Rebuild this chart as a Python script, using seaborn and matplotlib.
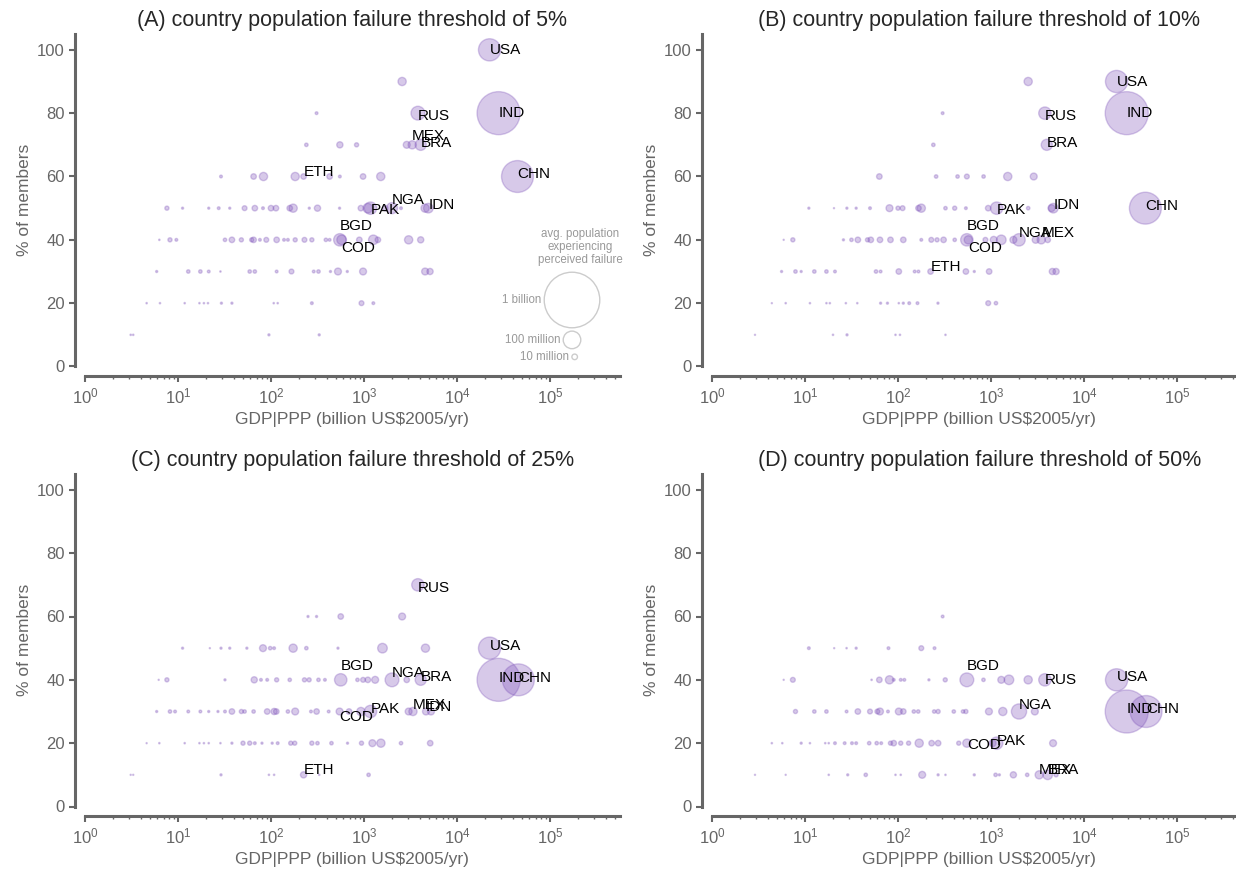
import numpy as np
import pandas as pd
import matplotlib
matplotlib.use("Agg")
import matplotlib.pyplot as plt
import seaborn as sns

# ============================
# DATA  (gdp in billion US$2005/yr, pct of members, pop in millions)
# ============================
titles = [
    "(A) country population failure threshold of 5%",
    "(B) country population failure threshold of 10%",
    "(C) country population failure threshold of 25%",
    "(D) country population failure threshold of 50%",
]

# --- panel A, unlabelled countries
a_gdp = [2570,
         309,
         240, 550, 832, 2880,
         29, 65, 83, 182, 427, 550, 977, 1514,
         7.6, 11.2, 21.4, 27.4, 36, 52, 67, 82, 100, 113, 159, 173, 258, 316, 546, 926, 1100, 1690, 2500, 4540,
         6.3, 8.2, 9.6, 32, 38, 48, 62, 65, 76, 89, 115, 138, 152, 182, 229, 275, 389, 427, 891, 1260, 1410, 3020, 4070,
         5.9, 12.9, 17.4, 21.4, 28.6, 59, 67, 115, 166, 288, 324, 436, 525, 661, 977, 4540, 5130,
         4.6, 6.4, 11.8, 17, 19, 21, 29.3, 38, 107, 118, 275, 940, 1260,
         3.1, 3.3, 95, 330]
a_pct = [90] * 1 + [80] * 1 + [70] * 4 + [60] * 8 + [50] * 20 + [40] * 23 + [30] * 17 + [20] * 13 + [10] * 4
a_pop = [22,
         2.5,
         3.9, 12.6, 5.6, 15.6,
         2.5, 10, 22, 22, 10, 2.5, 10, 22,
         5.6, 1.4, 1.4, 2.5, 1.4, 7.7, 10, 2.5, 10, 10, 10, 22, 1.4, 12.6, 1.4, 10, 30, 10, 2.5, 22,
         0.6, 5.6, 2.5, 3.9, 10, 5.6, 5.6, 10, 2.5, 7.7, 10, 2.5, 2.5, 5.6, 7.7, 5.6, 3.9, 2.5, 10, 30, 10, 22, 12.6,
         1.4, 3.9, 3.9, 2.5, 0.6, 3.9, 3.9, 2.5, 7.7, 2.5, 3.9, 1.4, 15.6, 1.4, 15.6, 15.6, 12.6,
         0.6, 0.6, 0.6, 0.6, 0.6, 0.6, 1.4, 1.4, 0.6, 0.6, 2.5, 7.7, 2.5,
         0.6, 0.6, 1.4, 1.4]
# --- panel A, labelled countries
a_code = ["USA", "RUS", "IND", "MEX", "BRA", "ETH", "CHN", "PAK", "NGA", "IDN", "BGD", "COD"]
a_lgdp = [22400, 3800, 28000, 3300, 4070, 224, 44700, 1175, 2000, 4920, 550, 575]
a_lpct = [100, 80, 80, 70, 70, 60, 60, 50, 50, 50, 40, 40]
a_lpop = [160, 62, 600, 22, 40, 10, 330, 50, 40, 30, 50, 30]

# --- panel B
b_gdp = [2510,
         302,
         240,
         63, 257, 437, 550, 832, 1514, 2880,
         11, 20.5, 28.2, 35.5, 50, 81, 100, 112, 166, 178, 324, 407, 537, 933, 2510, 4470,
         5.9, 7.4, 25.9, 31.6, 37, 47, 51, 64, 83, 114, 178, 228, 263, 309, 407, 871, 1070, 1290, 1740, 3020, 4070,
         5.6, 7.9, 9.1, 12.6, 17, 21, 58, 65, 102, 151, 166, 537, 661, 955, 4570, 5010,
         4.4, 6.2, 11.3, 17, 18.5, 27.5, 36.5, 65, 77, 102, 114, 132, 162, 269, 933, 1130,
         2.9, 20, 28.3, 94, 105, 324]
b_pct = [90] * 1 + [80] * 1 + [70] * 1 + [60] * 7 + [50] * 16 + [40] * 21 + [30] * 16 + [20] * 16 + [10] * 6
b_pop = [22,
         2.5,
         3.9,
         10, 3.9, 3.9, 7.7, 3.9, 22, 15.6,
         1.4, 0.4, 1.4, 1.4, 2.5, 15.6, 5.6, 7.7, 10, 22, 3.9, 5.6, 2.5, 10, 3.9, 15.6,
         0.4, 5.6, 1.4, 3.9, 10, 5.6, 10, 10, 10, 10, 2.5, 7.7, 5.6, 10, 3.9, 7.7, 15.6, 30, 15.6, 15.6, 10,
         1.4, 3.9, 1.4, 3.9, 3.9, 2.5, 3.9, 2.5, 10, 2.5, 2.5, 10, 1.4, 10, 12.6, 12.6,
         0.4, 0.6, 0.6, 0.6, 0.6, 0.6, 0.6, 1.4, 1.4, 0.6, 1.4, 2.5, 2.5, 1.4, 7.7, 3.9,
         0.4, 0.6, 1.4, 0.6, 0.6, 0.6]
b_code = ["USA", "RUS", "IND", "BRA", "PAK", "IDN", "CHN", "BGD", "COD", "NGA", "MEX", "ETH"]
b_lgdp = [22400, 3800, 28800, 3980, 1150, 4680, 45700, 550, 570, 2000, 3470, 224]
b_lpct = [90, 80, 80, 70, 50, 50, 50, 40, 40, 40, 40, 30]
b_lpop = [160, 50, 600, 40, 50, 30, 330, 50, 22, 50, 22, 10]

# --- panel C
c_gdp = [250, 309, 562, 2570,
         11.2, 22, 29, 36, 55, 82, 98, 108, 173, 240, 525, 1580, 4580,
         6.2, 7.6, 32, 66, 78, 91, 115, 159, 229, 257, 324, 380, 851, 977, 1100, 1318, 2880,
         5.9, 8.2, 9.3, 12.9, 17.4, 21.4, 26.9, 32, 38, 48, 52, 65, 91, 108, 114, 152, 182, 269, 309, 417, 690, 926, 3020, 5250,
         4.6, 6.3, 11.8, 17, 19, 21.4, 28.6, 38, 50, 59, 67, 80, 103, 118, 163, 180, 275, 316, 447, 665, 940, 1230, 1520, 2500, 5150,
         3.1, 3.3, 29, 95, 108, 330, 1120]
c_pct = [60] * 4 + [50] * 13 + [40] * 17 + [30] * 24 + [20] * 25 + [10] * 7
c_pop = [1.4, 1.4, 10, 15.6,
         1.4, 0.4, 1.4, 1.4, 1.4, 15.6, 3.9, 2.5, 22, 3.9, 1.4, 30, 22,
         0.4, 5.6, 1.4, 12.6, 2.5, 2.5, 5.6, 3.9, 5.6, 5.6, 3.9, 2.5, 3.9, 7.7, 10, 15.6, 10,
         1.4, 3.9, 2.5, 2.5, 2.5, 1.4, 1.4, 2.5, 10, 5.6, 3.9, 3.9, 10, 12.6, 10, 3.9, 15.6, 2.5, 10, 2.5, 10, 22, 15.6, 15.6,
         0.4, 0.6, 0.6, 0.6, 0.6, 0.6, 0.6, 1.4, 5.6, 5.6, 2.5, 1.4, 1.4, 2.5, 5.6, 5.6, 5.6, 3.9, 3.9, 1.4, 5.6, 15.6, 22, 3.9, 10,
         0.4, 0.4, 1.4, 0.6, 0.6, 0.6, 3.9]
c_code = ["RUS", "USA", "BGD", "NGA", "BRA", "IND", "CHN", "COD", "PAK", "MEX", "IDN", "ETH"]
c_lgdp = [3800, 22400, 562, 2000, 4070, 28000, 45700, 546, 1175, 3360, 4640, 224]
c_lpct = [70, 50, 40, 40, 40, 40, 40, 30, 30, 30, 30, 10]
c_lpop = [50, 160, 50, 62, 40, 600, 330, 15.6, 50, 22, 15.6, 12.6]

# --- panel D
d_gdp = [302,
         11, 20.6, 28, 35.5, 79, 178, 247,
         5.9, 7.4, 52, 63, 81, 90, 107, 117, 215, 322, 830, 1290, 1560, 2510,
         7.9, 12.6, 17, 28, 37, 50, 60, 64, 78, 102, 114, 148, 165, 245, 270, 398, 500, 537, 950, 1340, 2960,
         4.4, 5.7, 9.1, 11.3, 16.5, 18, 21, 26.7, 32, 35.5, 49, 59, 66, 83, 90, 107, 130, 169, 230, 270, 450, 1040, 4650,
         2.9, 6.2, 18, 28.8, 45, 94, 107, 182, 270, 324, 661, 1120, 1230, 1740, 2450, 5010]
d_pct = [60] * 1 + [50] * 7 + [40] * 14 + [30] * 21 + [20] * 23 + [10] * 16
d_pop = [2.5,
         2.5, 0.4, 0.6, 1.4, 2.5, 7.7, 2.5,
         0.4, 7.7, 0.6, 10, 22, 2.5, 2.5, 2.5, 1.4, 5.6, 3.9, 15.6, 30, 22,
         5.6, 3.9, 3.9, 2.5, 10, 7.7, 7.7, 15.6, 2.5, 15.6, 10, 3.9, 3.9, 3.9, 5.6, 3.9, 3.9, 5.6, 15.6, 22, 15.6,
         0.6, 0.6, 1.4, 0.6, 0.6, 0.6, 2.5, 2.5, 2.5, 2.5, 3.9, 3.9, 2.5, 5.6, 10, 5.6, 5.6, 22, 10, 10, 5.6, 15.6, 15.6,
         0.4, 0.4, 0.6, 1.4, 3.9, 0.6, 0.6, 15.6, 1.4, 0.6, 1.4, 3.9, 1.4, 12.6, 3.9, 5.6]
d_code = ["BGD", "RUS", "USA", "NGA", "IND", "CHN", "COD", "PAK", "MEX", "BRA"]
d_lgdp = [550, 3800, 22400, 2000, 28800, 46500, 550, 1150, 3300, 4070]
d_lpct = [40, 40, 40, 30, 30, 30, 20, 20, 10, 10]
d_lpop = [62, 50, 160, 75, 600, 330, 22, 50, 22, 30]

# bubble legend (millions)
legend_pops = [1000, 100, 10]
legend_text = ["1 billion", "100 million", "10 million"]

# ============================
# STYLE
# ============================
PURPLE = "#7b4fb8"
GREY = "#666666"
POP_MAX = 1000          # 1 billion -> SIZE_MAX
SIZE_MAX = 1600         # marker area (pt^2) for 1 billion

# vertical nudges of the country labels (points)
nudges = [
    {"USA": 0, "RUS": -2, "IND": 0, "MEX": 6, "BRA": 1.5, "ETH": 3.5, "CHN": 1.5,
     "PAK": -1.5, "NGA": 6, "IDN": 2, "BGD": 10, "COD": -6},
    {"USA": 0, "RUS": -2, "IND": 0, "BRA": 1.5, "PAK": -1.5, "IDN": 2, "CHN": 1.5,
     "BGD": 10, "COD": -6, "NGA": 5, "MEX": 5, "ETH": 3.5},
    {"RUS": -2, "USA": 1.5, "BGD": 10, "NGA": 5, "BRA": 2, "IND": 1.5, "CHN": 1.5,
     "COD": -4, "PAK": 1.5, "MEX": 5, "IDN": 3, "ETH": 3.5},
    {"BGD": 10, "RUS": 0, "USA": 2, "NGA": 5, "IND": 2, "CHN": 2, "COD": -1.5,
     "PAK": 1.5, "MEX": 3.5, "BRA": 3.5},
]

sns.set_style("ticks")
plt.rcParams["font.family"] = ["Liberation Sans", "DejaVu Sans"]
plt.rcParams["axes.edgecolor"] = GREY
plt.rcParams["xtick.color"] = GREY
plt.rcParams["ytick.color"] = GREY

fig = plt.figure(figsize=(12.36, 8.75), dpi=100)

W, H = 1236, 875
XMAX = 5.6e5
DECADE = 93
AW = DECADE * np.log10(XMAX)
boxes = [(85, 34, AW, 332.5), (712, 34, AW, 332.5),
         (85, 474, AW, 332.5), (712, 474, AW, 332.5)]

panels = [
    (a_gdp, a_pct, a_pop, a_code, a_lgdp, a_lpct, a_lpop),
    (b_gdp, b_pct, b_pop, b_code, b_lgdp, b_lpct, b_lpop),
    (c_gdp, c_pct, c_pop, c_code, c_lgdp, c_lpct, c_lpop),
    (d_gdp, d_pct, d_pop, d_code, d_lgdp, d_lpct, d_lpop),
]

for i, (gdp, pct, pop, code, lgdp, lpct, lpop) in enumerate(panels):
    l, t, w, h = boxes[i]
    ax = fig.add_axes([l / W, 1 - (t + h) / H, w / W, h / H])

    df = pd.DataFrame({
        "gdp": list(gdp) + list(lgdp),
        "pct": list(pct) + list(lpct),
        "pop": list(pop) + list(lpop),
    })
    sns.scatterplot(data=df, x="gdp", y="pct", size="pop",
                    sizes=(0, SIZE_MAX), size_norm=(0, POP_MAX),
                    color=PURPLE, alpha=0.3, edgecolor=PURPLE, linewidth=1,
                    legend=False, ax=ax)

    for c, x, y in zip(code, lgdp, lpct):
        ax.annotate(c, (x, y), xytext=(0, nudges[i].get(c, 0)),
                    textcoords="offset points", ha="left", va="center",
                    fontsize=11, color="black")

    ax.set_xscale("log")
    ax.set_xlim(1, XMAX)
    ax.set_ylim(0, 105)
    ax.set_yticks([0, 20, 40, 60, 80, 100])
    ax.set_xticks([1, 10, 100, 1e3, 1e4, 1e5])
    ax.set_xlabel(r"GDP|PPP (billion US\$2005/yr)", fontsize=12.5, color=GREY)
    ax.set_ylabel("% of members", fontsize=12.5, color=GREY)
    ax.set_title(titles[i], fontsize=15.5, pad=6)
    ax.tick_params(axis="both", which="major", labelsize=12, width=1.5, length=4)
    ax.tick_params(axis="x", which="minor", width=1, length=2.5)
    for s in ["left", "bottom"]:
        ax.spines[s].set_linewidth(2.2)
    sns.despine(ax=ax, offset=7)

    if i == 0:
        # bubble size legend
        pos = [(0.911, 0.20), (0.911, 0.08), (0.916, 0.029)]
        for (px, py), p, txt in zip(pos, legend_pops, legend_text):
            ax.scatter([px], [py], s=SIZE_MAX * p / POP_MAX, transform=ax.transAxes,
                       facecolor="none", edgecolor="#cccccc", linewidth=1, clip_on=False)
            r = np.sqrt(SIZE_MAX * p / POP_MAX) / 2 / 0.72 / w
            ax.text(px - r - 0.006, py, txt, transform=ax.transAxes,
                    ha="right", va="center", fontsize=8.3, color="#999999")
        ax.text(0.927, 0.36, "avg. population\nexperiencing\nperceived failure",
                transform=ax.transAxes, ha="center", va="center",
                fontsize=8.3, color="#999999", linespacing=1.1)

fig.savefig("out.png", dpi=100)
